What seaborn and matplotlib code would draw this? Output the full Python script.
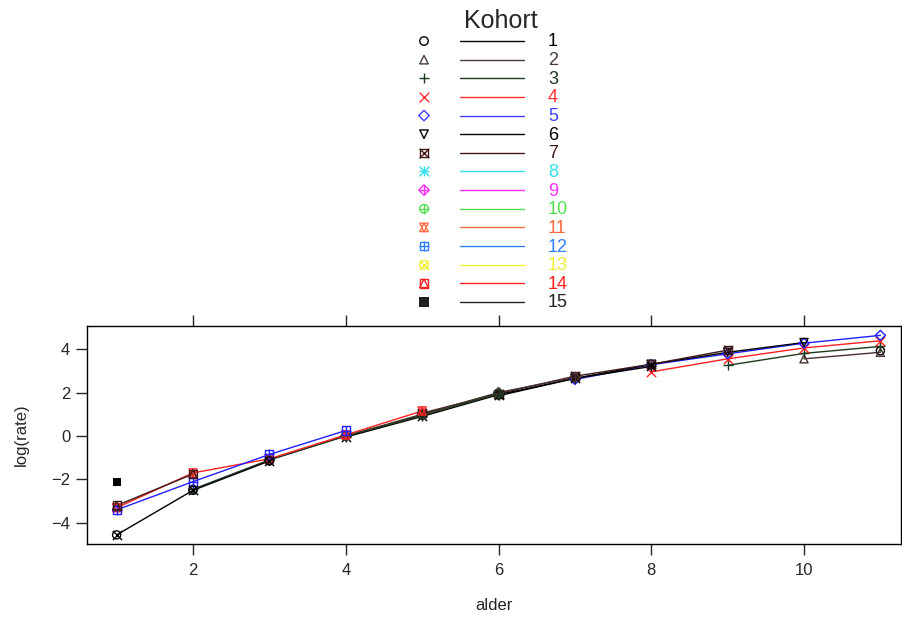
import numpy as np
import pandas as pd
import matplotlib
matplotlib.use("Agg")
import matplotlib.pyplot as plt
import seaborn as sns

# ---- data: cohort -> (ages, log(rate)) ----
cohorts = list(range(1, 16))
ages_c = {
    1: [11],
    2: [10, 11],
    3: [9, 10, 11],
    4: [8, 9, 10, 11],
    5: [7, 8, 9, 10, 11],
    6: [6, 7, 8, 9, 10],
    7: [5, 6, 7, 8, 9],
    8: [4, 5, 6, 7, 8],
    9: [3, 4, 5, 6, 7],
    10: [2, 3, 4, 5, 6],
    11: [1, 2, 3, 4, 5],
    12: [1, 2, 3, 4],
    13: [1, 2, 3],
    14: [1, 2],
    15: [1],
}
rates_c = {
    1: [3.92],
    2: [3.55, 3.85],
    3: [3.25, 3.80, 4.12],
    4: [2.95, 3.55, 4.05, 4.38],
    5: [2.60, 3.28, 3.78, 4.27, 4.63],
    6: [1.85, 2.65, 3.30, 3.85, 4.30],
    7: [1.05, 1.95, 2.75, 3.30, 3.95],
    8: [-0.05, 0.90, 1.90, 2.65, 3.20],
    9: [-1.10, 0.00, 1.00, 2.00, 2.70],
    10: [-2.45, -1.10, 0.00, 0.95, 1.95],
    11: [-3.30, -1.70, -1.05, 0.05, 1.15],
    12: [-3.40, -2.10, -0.85, 0.25],
    13: [-4.55, -2.50, -1.15],
    14: [-3.20, -1.75],
    15: [-2.10],
}
xticks = [2, 4, 6, 8, 10]
yticks = [-4, -2, 0, 2, 4]

rows = []
for c in cohorts:
    for a, r in zip(ages_c[c], rates_c[c]):
        rows.append({"kohort": c, "alder": a, "lograte": r})
df = pd.DataFrame(rows)

# plot colours cycle of 7 (lattice superpose), key colours distinct
plot_cycle = ["#000000", "#4a3030", "#1e3a1e", "#ff2020", "#2020ff", "#000000", "#401818"]
plot_colors = {c: plot_cycle[(c - 1) % 7] for c in cohorts}
key_colors = ["#000000", "#4a3a3a", "#1e3a1e", "#ff3030", "#4040ff", "#000000", "#401818",
              "#30e0f0", "#ff30ff", "#50e050", "#ff6a40", "#3080ff", "#f0f030", "#ff2020", "#222222"]

# marker layers per cohort: (marker, filled)
sym = {
    1: [("o", False)], 2: [("^", False)], 3: [("+", True)], 4: [("x", True)],
    5: [("D", False)], 6: [("v", False)], 7: [("s", False), ("x", True)],
    8: [("+", True), ("x", True)], 9: [("D", False), ("+", True)],
    10: [("o", False), ("+", True)], 11: [("^", False), ("v", False)],
    12: [("s", False), ("+", True)], 13: [("o", False), ("x", True)],
    14: [("s", False), ("^", False)], 15: [("s", True)],
}

sns.set_style("white")
plt.rcParams["font.family"] = ["Liberation Sans", "DejaVu Sans"]

W, H = 902, 620
fig = plt.figure(figsize=(W / 100, H / 100), dpi=100)
L, R, T, B = 87, 901, 326, 544
ax = fig.add_axes([L / W, 1 - B / H, (R - L) / W, (B - T) / H])

sns.lineplot(data=df, x="alder", y="lograte", hue="kohort", palette=plot_colors,
             legend=False, linewidth=1.0, ax=ax, estimator=None, sort=True)

def draw_marker(axx, x, y, c, color, scale=1.0):
    for m, filled in sym[c]:
        s = 34 * scale if m not in ("D",) else 26 * scale
        if filled and m in ("+", "x"):
            axx.scatter(x, y, marker=m, s=s * 1.3, c=color, linewidths=1.0, zorder=5)
        elif filled:
            axx.scatter(x, y, marker=m, s=s * 1.2, c=color, linewidths=0, zorder=5)
        else:
            axx.scatter(x, y, marker=m, s=s, facecolors="none", edgecolors=color,
                        linewidths=1.0, zorder=5)

for c in cohorts:
    sub = df[df.kohort == c]
    draw_marker(ax, sub.alder.values, sub.lograte.values, c, plot_colors[c])

ax.set_xlim(0.612, 11.27)
ax.set_ylim(-4.97, 5.06)
ax.set_xticks(xticks)
ax.set_yticks(yticks)
ax.set_xlabel("alder", fontsize=12, labelpad=14)
ax.set_ylabel("log(rate)", fontsize=12, labelpad=16)
ax.tick_params(axis="x", direction="out", length=8, width=1, top=True, bottom=True,
               labelsize=12, pad=6, labeltop=False)
ax.tick_params(axis="y", direction="out", length=8, width=1, left=True, right=False,
               labelsize=12, pad=4)
for sp in ax.spines.values():
    sp.set_visible(True)
    sp.set_color("black")
    sp.set_linewidth(1.0)

# key at the top, drawn in pixel coordinates
kax = fig.add_axes([0, 0, 1, 1])
kax.set_xlim(0, W)
kax.set_ylim(H, 0)
kax.axis("off")
kax.patch.set_alpha(0)
kax.text(501, 21, "Kohort", fontsize=18, ha="center", va="center")
for i, c in enumerate(cohorts):
    y = 41 + i * 18.64
    col = key_colors[i]
    draw_marker(kax, [424], [y], c, col, scale=1.1)
    kax.plot([460, 524], [y, y], color=col, linewidth=1.0)
    kax.text(548, y + 1, str(c), fontsize=13, color=col, ha="left", va="center")

fig.savefig("out.png", dpi=100)
